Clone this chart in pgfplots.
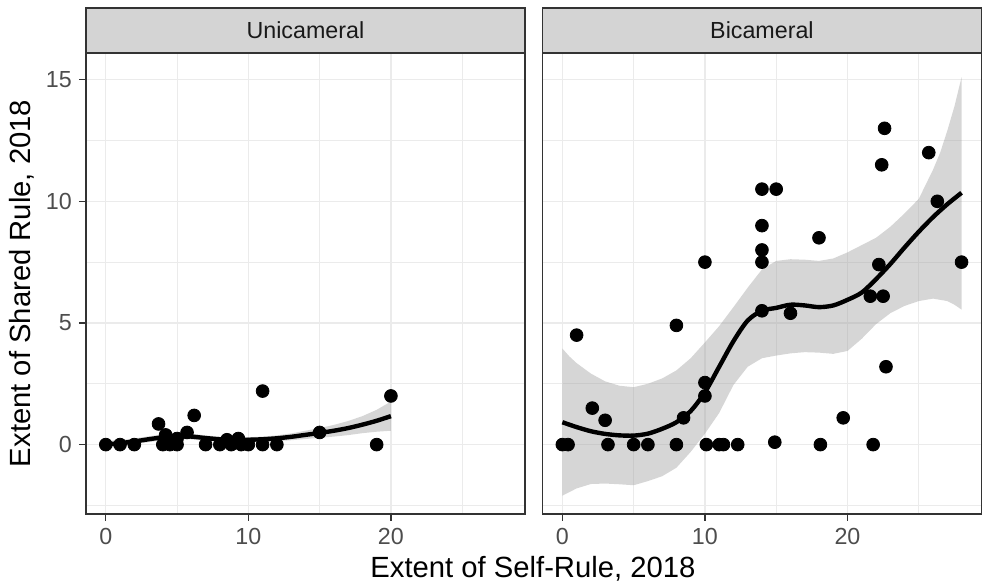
\documentclass[border=0pt]{standalone}
\usepackage{fontspec}
\setmainfont{Liberation Sans}
\usepackage{pgfplots}
\pgfplotsset{compat=1.18}

\definecolor{gridc}{HTML}{EBEBEB}
\definecolor{grey20}{HTML}{333333}
\definecolor{grey30}{HTML}{4D4D4D}
\definecolor{stripc}{HTML}{D4D4D4}

\pgfplotsset{
  panel/.style={
    width=220bp, height=231bp, scale only axis, anchor=south west,
    xmin=-1.4, xmax=29.4, ymin=-2.85, ymax=16.1,
    xtick={0,10,20}, minor xtick={5,15,25},
    ytick={0,5,10,15}, minor ytick={-2.5,2.5,7.5,12.5},
    grid=both,
    major grid style={line width=0.6bp, color=gridc},
    minor grid style={line width=0.3bp, color=gridc},
    tick align=outside, tick pos=left,
    major tick length=3.5bp, minor tick length=0pt,
    tick style={line width=0.6bp, color=grey20},
    axis line style={line width=0.7bp, color=grey20},
    ticklabel style={font=\fontsize{11.7}{14}\selectfont, text=grey30},
    /pgf/number format/assume math mode=true,
  },
  pts/.style={only marks, mark=*, mark size=3.2bp, black},
  band/.style={fill=black!40, fill opacity=0.4, draw=none, sharp plot, no marks},
  fit/.style={black, line width=2.2bp, smooth, no marks},
}

\begin{document}
\begin{tikzpicture}

% left panel: unicameral
\begin{axis}[panel, at={(0,0)}]
\addplot[pts] coordinates {
 (0,0) (1,0) (2,0) (3.7,0.85) (4,0) (4.2,0.4) (4.5,0) (5,0) (5,0.25)
 (5.7,0.5) (6.2,1.2) (7,0) (8,0) (8.5,0.2) (8.8,0) (9.3,0.25) (9.5,0)
 (10,0) (11,0) (11,2.2) (12,0) (15,0.5) (19,0) (20,2)
};
% confidence band: upper edge left to right, then lower edge back
\addplot[band] coordinates {
 (0,0.15) (1,0.19) (2,0.25) (3,0.34) (4,0.42) (5,0.47) (6,0.45) (7,0.38)
 (8,0.32) (9,0.30) (10,0.30) (11,0.33) (12,0.38) (13,0.46) (14,0.57)
 (15,0.68) (16,0.81) (17,0.97) (18,1.17) (19,1.43) (20,1.77)
 (20,0.57) (19,0.53) (18,0.47) (17,0.39) (16,0.33) (15,0.28) (14,0.23)
 (13,0.18) (12,0.14) (11,0.11) (10,0.10) (9,0.10) (8,0.12) (7,0.16)
 (6,0.21) (5,0.23) (4,0.18) (3,0.10) (2,0.01) (1,-0.07) (0,-0.15)
};
\addplot[fit] coordinates {
 (0,0.0) (1,0.06) (2,0.13) (3,0.22) (4,0.3) (5,0.35) (6,0.33) (7,0.27)
 (8,0.22) (9,0.2) (10,0.2) (11,0.22) (12,0.26) (13,0.32) (14,0.4)
 (15,0.48) (16,0.57) (17,0.68) (18,0.82) (19,0.98) (20,1.17)
};
\end{axis}

% right panel: bicameral
\begin{axis}[panel, at={(228.75bp,0)}, yticklabels={}, ytick style={draw=none}]
\addplot[pts] coordinates {
 (0,0) (0.4,0) (1,4.5) (2.1,1.5) (3,1) (3.2,0) (5,0) (6,0) (8,4.9) (8,0)
 (8.5,1.1) (10,7.5) (10,2.55) (10,2) (10.1,0) (11,0) (11.3,0) (12.3,0)
 (14,10.5) (15,10.5) (14,9) (14,8) (14,7.5) (14,5.5) (16,5.4) (14.9,0.1)
 (18,8.5) (18.1,0) (19.7,1.1) (21.6,6.1) (21.8,0) (22.2,7.4) (22.4,11.5)
 (22.5,6.1) (22.6,13) (22.7,3.2) (25.7,12) (26.3,10) (28,7.5)
};
\addplot[band] coordinates {
 (0,3.95) (0.5,3.62) (1,3.35) (2,2.92) (3,2.6) (4,2.42) (5,2.36) (6,2.5)
 (7,2.72) (8,3.05) (9,3.55) (10,4.2) (11,4.87) (12,5.65) (13,6.45)
 (14,7.2) (15,7.55) (16,7.62) (17,7.6) (18,7.55) (19,7.65) (20,7.9)
 (21,8.2) (22,8.5) (23,8.95) (24,9.5) (25,10.1) (26,11.3) (26.5,12.0)
 (27,12.9) (27.5,13.9) (28,15.1)
 (28,5.55) (27.5,5.75) (27,5.9) (26,6.0) (25,5.9) (24,5.7) (23,5.4)
 (22,4.95) (21,4.35) (20,3.85) (19,3.73) (18,3.78) (17,3.8) (16,3.75)
 (15,3.66) (14,3.55) (13,3.2) (12,2.45) (11,1.3) (10,0.45) (9,-0.3)
 (8,-0.95) (7,-1.3) (6,-1.5) (5,-1.67) (4,-1.63) (3,-1.6) (2,-1.62)
 (1,-1.8) (0.5,-1.95) (0,-2.1)
};
\addplot[fit] coordinates {
 (0,0.92) (1,0.72) (2,0.55) (3,0.44) (4,0.38) (5,0.37) (6,0.45) (7,0.65)
 (8,0.92) (9,1.38) (10,2.15) (11,3.2) (12,4.25) (13,5.1) (14,5.5)
 (15,5.62) (16,5.75) (17,5.72) (18,5.65) (19,5.72) (20,5.95) (21,6.25)
 (22,6.8) (23,7.42) (24,8.1) (25,8.75) (26,9.35) (27,9.88) (28,10.35)
};
\end{axis}

% facet strips
\filldraw[fill=stripc, draw=grey20, line width=0.7bp] (0,231bp) rectangle (220bp,253.5bp);
\filldraw[fill=stripc, draw=grey20, line width=0.7bp] (228.75bp,231bp) rectangle (448.75bp,253.5bp);
\node[font=\fontsize{11.7}{14}\selectfont, text=black!90] at (110bp,242.25bp) {Unicameral};
\node[font=\fontsize{11.7}{14}\selectfont, text=black!90] at (338.75bp,242.25bp) {Bicameral};

% axis titles
\node[font=\fontsize{14.7}{17}\selectfont] at (224bp,-27.5bp) {Extent of Self-Rule, 2018};
\node[font=\fontsize{14.7}{17}\selectfont, rotate=90] at (-32bp,115.5bp) {Extent of Shared Rule, 2018};

\pgfresetboundingbox
\useasboundingbox (-43bp,-36.5bp) rectangle (449.5bp,257.5bp);
\end{tikzpicture}
\end{document}
